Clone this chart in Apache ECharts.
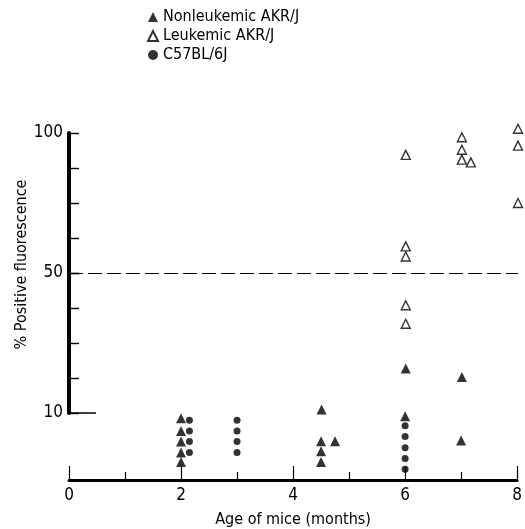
<!DOCTYPE html>
<html>
<head>
<meta charset="utf-8">
<script src="https://cdn.jsdelivr.net/npm/echarts@6/dist/echarts.min.js"></script>
<style>
  html, body { margin: 0; padding: 0; background: #fff; }
  #main { width: 525px; height: 529px; }
</style>
</head>
<body>
<div id="main"></div>
<script>
// values (age in months, % positive fluorescence)
const nonleukAge = [2, 2, 2, 2, 2, 4.5, 4.5, 4.5, 4.5, 4.75, 6, 6, 7, 7];
const nonleukPct = [9.2, 7.3, 5.75, 4.1, 2.7, 11, 5.8, 4.3, 2.7, 5.8, 22.7, 9.5, 20.3, 5.9];
const leukAge = [6, 6, 6, 6, 6, 7, 7, 7, 7.16, 8, 8, 8];
const leukPct = [92.2, 59.5, 55.9, 40.8, 35.5, 98.5, 94, 90.5, 89.5, 101.5, 95.5, 75];
const c57Age = [2.15, 2.15, 2.15, 2.15, 3, 3, 3, 3, 6, 6, 6, 6, 6];
const c57Pct = [8.9, 7.3, 5.75, 4.1, 8.9, 7.3, 5.75, 4.1, 8.1, 6.5, 4.8, 3.2, 1.6];
const xTicks = [0, 2, 4, 6, 8];
const yLabelsTop = [100];
const yLabelsMid = [10, 50];

const FONT = "'Liberation Sans Narrow', 'DejaVu Sans Condensed', 'Liberation Sans', sans-serif";

// the original axis is broken: 50-100, 10-50 and a squeezed strip below 10
const bands = [[50, Infinity], [10, 50], [-Infinity, 10]];

function pairs(ages, pcts, band) {
    const out = [];
    ages.forEach((a, i) => {
        if (pcts[i] >= band[0] && pcts[i] < band[1]) out.push([a, pcts[i]]);
    });
    return out;
}

const styles = {
    'Nonleukemic AKR/J': { symbol: 'triangle', symbolSize: 10, itemStyle: { color: '#000' } },
    'Leukemic AKR/J': { symbol: 'triangle', symbolSize: 9, itemStyle: { color: '#fff', borderColor: '#000', borderWidth: 1.4 } },
    'C57BL/6J': { symbol: 'circle', symbolSize: 7, itemStyle: { color: '#000' } }
};
const groups = [
    ['Nonleukemic AKR/J', nonleukAge, nonleukPct],
    ['Leukemic AKR/J', leukAge, leukPct],
    ['C57BL/6J', c57Age, c57Pct]
];

const series = [];
groups.forEach(([name, ages, pcts]) => {
    bands.forEach((band, b) => {
        series.push(Object.assign({
            name: name,
            type: 'scatter',
            xAxisIndex: b,
            yAxisIndex: b,
            clip: false,
            data: pairs(ages, pcts, band),
            emphasis: { disabled: true }
        }, styles[name]));
    });
});

// dashed 50% line and the long stub at 10%
series.push({
    type: 'scatter',
    xAxisIndex: 1,
    yAxisIndex: 1,
    data: [],
    markLine: {
        silent: true,
        symbol: 'none',
        label: { show: false },
        data: [
            [{ coord: [0, 50], lineStyle: { type: [14, 5], width: 1.2, color: '#000' } }, { coord: [8, 50] }],
            [{ coord: [0, 10], lineStyle: { type: 'solid', width: 1.5, color: '#000' } }, { coord: [0.48, 10] }]
        ]
    }
});

const yCommon = {
    type: 'value',
    axisLine: { show: true, lineStyle: { color: '#000', width: 4 } },
    axisTick: { inside: true, length: 10, lineStyle: { color: '#000', width: 1.4 } },
    splitLine: { show: false }
};

const chart = echarts.init(document.getElementById('main'));
chart.setOption({
    animation: false,
    textStyle: { fontFamily: FONT },
    legend: {
        orient: 'vertical',
        left: 142,
        top: 4,
        itemGap: 3,
        itemWidth: 10,
        itemHeight: 10,
        data: groups.map(g => g[0]),
        textStyle: { fontSize: 16, color: '#000', fontFamily: FONT, lineHeight: 16 },
        selectedMode: false
    },
    graphic: [{
        type: 'text',
        left: 14,
        top: 'middle',
        rotation: Math.PI / 2,
        x: 23,
        y: 267,
        style: {
            text: '% Positive fluorescence',
            font: '16px ' + FONT,
            fill: '#000',
            textAlign: 'center',
            textVerticalAlign: 'middle'
        }
    }],
    grid: [
        { left: 69, right: 7, top: 133, height: 140 },
        { left: 69, right: 7, top: 273, height: 140 },
        { left: 69, right: 7, top: 413, height: 68 }
    ],
    xAxis: [
        { gridIndex: 0, type: 'value', min: 0, max: 8, show: false },
        { gridIndex: 1, type: 'value', min: 0, max: 8, show: false },
        {
            gridIndex: 2, type: 'value', min: 0, max: 8, interval: 2,
            name: 'Age of mice (months)',
            nameLocation: 'middle',
            nameGap: 32,
            nameTextStyle: { fontSize: 16, color: '#000', fontFamily: FONT },
            axisLine: { lineStyle: { color: '#000', width: 3 } },
            axisTick: { inside: true, length: 14, lineStyle: { color: '#000', width: 1.2 } },
            minorTick: { show: true, splitNumber: 2, length: 8, lineStyle: { color: '#000', width: 1.2 } },
            splitLine: { show: false },
            axisLabel: {
                fontSize: 17, color: '#000', margin: 7, fontFamily: FONT,
                formatter: v => xTicks.includes(v) ? String(v) : ''
            }
        }
    ],
    yAxis: [
        Object.assign({}, yCommon, {
            gridIndex: 0, min: 50, max: 100, interval: 12.5,
            axisLabel: {
                fontSize: 17, color: '#000', margin: 6, fontFamily: FONT,
                formatter: v => yLabelsTop.includes(v) ? String(v) : ''
            }
        }),
        Object.assign({}, yCommon, {
            gridIndex: 1, min: 10, max: 50, interval: 10,
            axisLabel: {
                fontSize: 17, color: '#000', margin: 6, fontFamily: FONT,
                formatter: v => yLabelsMid.includes(v) ? String(v) : ''
            }
        }),
        { gridIndex: 2, type: 'value', min: 0, max: 10, show: false }
    ],
    series: series
});
</script>
</body>
</html>
